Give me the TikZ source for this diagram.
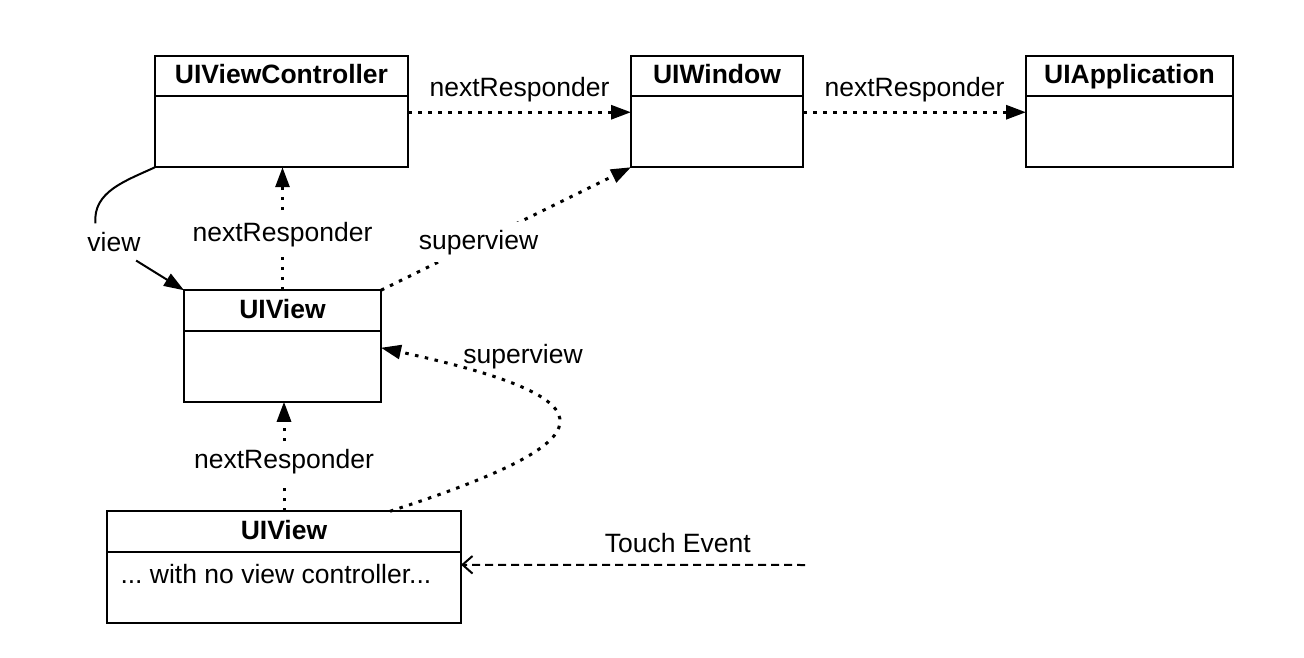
\documentclass[tikz,border=0pt]{standalone}
\usepackage{fontspec}
\setmainfont{Liberation Sans}
\usetikzlibrary{positioning,arrows.meta}

\begin{document}
\frenchspacing
\begin{tikzpicture}[x=0.4pt,y=-0.4pt,
    every node/.style={font=\fontsize{10.6}{12.7}\selectfont},
    head/.style={draw, line width=0.8pt, outer sep=0pt, inner sep=0pt, minimum height=16.2pt,
      text height=1.6ex, text depth=0.4ex, font=\fontsize{10.6}{12.7}\selectfont\bfseries},
    body/.style={draw, line width=0.8pt, outer sep=0pt, inner sep=0pt, minimum height=28.4pt},
    resp/.style={line width=1.2pt, dash pattern=on 1.4pt off 2.6pt, -{Triangle[length=8pt,width=5.6pt]}},
    lbl/.style={fill=white, inner sep=3pt}]
    \useasboundingbox (0,0) rectangle (1304,658);

    % top row
    \node[head, minimum width=101.2pt] (vc) at (281.5,76) {UIViewController};
    \node[body, minimum width=101.2pt, below=0pt of vc] (vcb) {};
    \node[head, minimum width=68.8pt] (win) at (717,76) {UIWindow};
    \node[body, minimum width=68.8pt, below=0pt of win] (winb) {};
    \node[head, minimum width=82.8pt] (app) at (1129.5,76) {UIApplication};
    \node[body, minimum width=82.8pt, below=0pt of app] (appb) {};

    % views
    \node[head, minimum width=78.8pt] (v1) at (282.5,310.5) {UIView};
    \node[body, minimum width=78.8pt, below=0pt of v1] (v1b) {};
    \node[head, minimum width=141.6pt] (v2) at (284,531.5) {UIView};
    \node[body, minimum width=141.6pt, below=0pt of v2] (v2b) {};
    \node[anchor=north west, inner sep=0pt] (v2note) at ([xshift=5.2pt,yshift=-5pt]v2b.north west)
      {... with no view controller...};

    \draw[resp] ([yshift=-6.4pt]vcb.north east) -- ([yshift=-6.4pt]winb.north west)
      node[midway, above] {nextResponder};
    \draw[resp] ([yshift=-6.4pt]winb.north east) -- ([yshift=-6.4pt]appb.north west)
      node[midway, above] {nextResponder};

    % view link
    \node (viewlbl) at (114,242) {view};
    \draw[line width=0.8pt] (vcb.south west) to[out=205, in=95] (viewlbl.135);
    \draw[line width=0.8pt, -{Triangle[length=8pt,width=5.6pt]}] (viewlbl.-40) -- (v1.north west);

    \draw[resp] (v1.north) -- (v1.north |- vcb.south) node[pos=0.45, lbl] {nextResponder};
    \draw[resp] (v1.north east) -- (winb.south west) node[pos=0.39, lbl] {superview};
    \draw[resp] (v2.north) -- (v2.north |- v1b.south) node[pos=0.45, lbl] {nextResponder};
    \draw[resp] ([xshift=42.4pt]v2.north) .. controls (610,440) and (620,400) .. ([yshift=-6.8pt]v1b.north east)
      node[pos=0.85, anchor=south west, inner sep=0pt, xshift=-4pt] {superview};

    % touch
    \coordinate (touch) at (805,565);
    \draw[line width=0.8pt, dash pattern=on 3.2pt off 2pt, -{Straight Barb[length=4pt,width=7pt]}]
      (touch) -- ([yshift=-5.2pt]v2b.north east) node[pos=0.37, above=1pt] {Touch Event};
\end{tikzpicture}
\end{document}
